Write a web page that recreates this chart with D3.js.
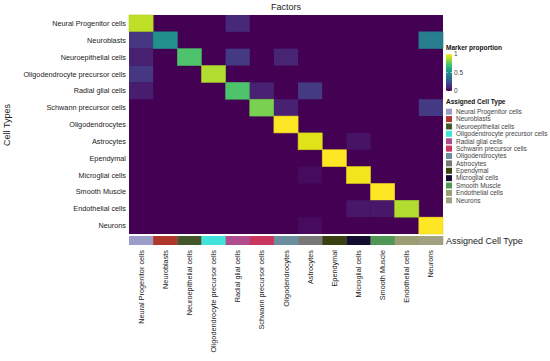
<!DOCTYPE html>
<html>
<head>
<style>
  body { margin: 0; background: #fff; }
  text { font-family: "Liberation Sans", Arial, sans-serif; }
</style>
</head>
<body>
<svg width="550" height="361"></svg>
<script src="https://d3js.org/d3.v7.min.js"></script>
<script>

var cellTypes = ["Neural Progenitor cells", "Neuroblasts", "Neuroepithelial cells",
  "Oligodendrocyte precursor cells", "Radial glial cells", "Schwann precursor cells",
  "Oligodendrocytes", "Astrocytes", "Ependymal", "Microglial cells", "Smooth Muscle",
  "Endothelial cells", "Neurons"];

var typeColors = ["#9c9cc9", "#b0372b", "#45562b", "#42e3da", "#b04d8f", "#c9375f",
  "#6b8f9f", "#787878", "#3b4012", "#150d2f", "#4f9657", "#9b9d72", "#a2a283"];

// rows = cell types, columns = factors (same order)
var proportions = [
  [0.90, 0, 0, 0, 0.11, 0, 0, 0, 0, 0, 0, 0, 0],
  [0.16, 0.50, 0, 0, 0, 0, 0, 0, 0, 0, 0, 0, 0.42],
  [0.09, 0, 0.72, 0, 0.17, 0, 0.10, 0, 0, 0, 0, 0, 0],
  [0.16, 0, 0, 0.88, 0, 0, 0, 0, 0, 0, 0, 0, 0],
  [0.08, 0, 0, 0, 0.72, 0.09, 0, 0.17, 0, 0, 0, 0, 0],
  [0, 0, 0, 0, 0, 0.80, 0.09, 0, 0, 0, 0, 0, 0.17],
  [0, 0, 0, 0, 0, 0, 1.00, 0, 0, 0, 0, 0, 0],
  [0, 0, 0, 0, 0, 0, 0, 0.95, 0, 0.05, 0, 0, 0],
  [0, 0, 0, 0, 0, 0, 0, 0, 1.00, 0, 0, 0, 0],
  [0, 0, 0, 0, 0, 0, 0, 0.03, 0, 0.98, 0, 0, 0],
  [0, 0, 0, 0, 0, 0, 0, 0, 0, 0, 1.00, 0, 0],
  [0, 0, 0, 0, 0, 0, 0, 0, 0, 0.06, 0.06, 0.88, 0],
  [0, 0, 0, 0, 0, 0, 0, 0.03, 0, 0, 0, 0, 1.00]
];

var colorTicks = [0, 0.5, 1];

var svg = d3.select("svg");

var x = d3.scaleBand().domain(cellTypes).range([129, 443]);
var y = d3.scaleBand().domain(cellTypes).range([15, 234]);
var color = d3.scaleSequential(d3.interpolateViridis).domain([0, 1]);
var typeColor = d3.scaleOrdinal().domain(cellTypes).range(typeColors);

// background so cell seams don't show
svg.append("rect")
  .attr("x", x.range()[0]).attr("y", y.range()[0])
  .attr("width", x.range()[1] - x.range()[0])
  .attr("height", y.range()[1] - y.range()[0])
  .attr("fill", color(0));

// heatmap cells
var cells = [];
proportions.forEach(function(row, i) {
  row.forEach(function(v, j) {
    if (v > 0) cells.push({row: cellTypes[i], col: cellTypes[j], value: v});
  });
});

svg.append("g").selectAll("rect")
  .data(cells)
  .enter().append("rect")
    .attr("x", function(d) { return x(d.col); })
    .attr("y", function(d) { return y(d.row); })
    .attr("width", x.bandwidth())
    .attr("height", y.bandwidth())
    .attr("fill", function(d) { return color(d.value); })
    .attr("stroke", function(d) { return d.value > 0.3 ? d3.color(color(d.value)).darker(0.25) : "none"; })
    .attr("stroke-width", 0.6);

// annotation bar
svg.append("g").selectAll("rect")
  .data(cellTypes)
  .enter().append("rect")
    .attr("x", function(d) { return x(d); })
    .attr("y", 236)
    .attr("width", x.bandwidth() + 0.3)
    .attr("height", 9)
    .attr("fill", function(d) { return typeColor(d); });

svg.append("text")
  .attr("x", 446).attr("y", 244)
  .attr("font-size", 9).attr("fill", "#222")
  .text("Assigned Cell Type");

// row labels
svg.append("g").selectAll("text")
  .data(cellTypes)
  .enter().append("text")
    .attr("x", 126)
    .attr("y", function(d) { return y(d) + y.bandwidth() / 2; })
    .attr("dy", "0.35em")
    .attr("text-anchor", "end")
    .attr("font-size", 7.3).attr("fill", "#222")
    .text(function(d) { return d; });

// column labels
svg.append("g").selectAll("text")
  .data(cellTypes)
  .enter().append("text")
    .attr("transform", function(d) {
      return "translate(" + (x(d) + x.bandwidth() / 2) + ",250) rotate(-90)";
    })
    .attr("dy", "0.35em")
    .attr("text-anchor", "end")
    .attr("font-size", 7.3).attr("fill", "#222")
    .text(function(d) { return d; });

// titles
svg.append("text")
  .attr("x", 286).attr("y", 10)
  .attr("text-anchor", "middle")
  .attr("font-size", 9).attr("fill", "#222")
  .text("Factors");

svg.append("text")
  .attr("transform", "translate(10,125) rotate(-90)")
  .attr("text-anchor", "middle")
  .attr("font-size", 9).attr("fill", "#222")
  .text("Cell Types");

// colour legend
var legX = 446;
svg.append("text")
  .attr("x", legX).attr("y", 50)
  .attr("font-size", 6.5).attr("font-weight", "bold").attr("fill", "#111")
  .text("Marker proportion");

var defs = svg.append("defs");
var grad = defs.append("linearGradient")
  .attr("id", "vgrad")
  .attr("x1", 0).attr("y1", 1).attr("x2", 0).attr("y2", 0);
d3.range(0, 1.01, 0.1).forEach(function(t) {
  grad.append("stop").attr("offset", t).attr("stop-color", color(t));
});

var cy = d3.scaleLinear().domain([0, 1]).range([91, 54]);
svg.append("rect")
  .attr("x", legX).attr("y", cy(1))
  .attr("width", 6).attr("height", cy(0) - cy(1))
  .attr("fill", "url(#vgrad)");

var tk = svg.append("g").selectAll("g")
  .data(colorTicks)
  .enter().append("g");
tk.append("line")
  .attr("x1", legX).attr("x2", legX + 1.5)
  .attr("y1", function(d) { return cy(d); }).attr("y2", function(d) { return cy(d); })
  .attr("stroke", "#fff").attr("stroke-width", 0.6);
tk.append("line")
  .attr("x1", legX + 4.5).attr("x2", legX + 6)
  .attr("y1", function(d) { return cy(d); }).attr("y2", function(d) { return cy(d); })
  .attr("stroke", "#fff").attr("stroke-width", 0.6);
tk.append("text")
  .attr("x", legX + 8)
  .attr("y", function(d) { return cy(d); })
  .attr("dy", "0.35em")
  .attr("font-size", 6.5).attr("fill", "#444")
  .text(function(d) { return d; });

// categorical legend
svg.append("text")
  .attr("x", legX).attr("y", 104)
  .attr("font-size", 6.5).attr("font-weight", "bold").attr("fill", "#111")
  .text("Assigned Cell Type");

var ly = d3.scalePoint().domain(cellTypes).range([111.7, 200.3]);
var items = svg.append("g").selectAll("g")
  .data(cellTypes)
  .enter().append("g")
    .attr("transform", function(d) { return "translate(" + legX + "," + ly(d) + ")"; });
items.append("rect")
  .attr("x", 0).attr("y", -3)
  .attr("width", 6).attr("height", 6)
  .attr("fill", function(d) { return typeColor(d); });
items.append("text")
  .attr("x", 10).attr("dy", "0.35em")
  .attr("font-size", 6.5).attr("fill", "#444")
  .text(function(d) { return d; });

</script>
</body>
</html>
